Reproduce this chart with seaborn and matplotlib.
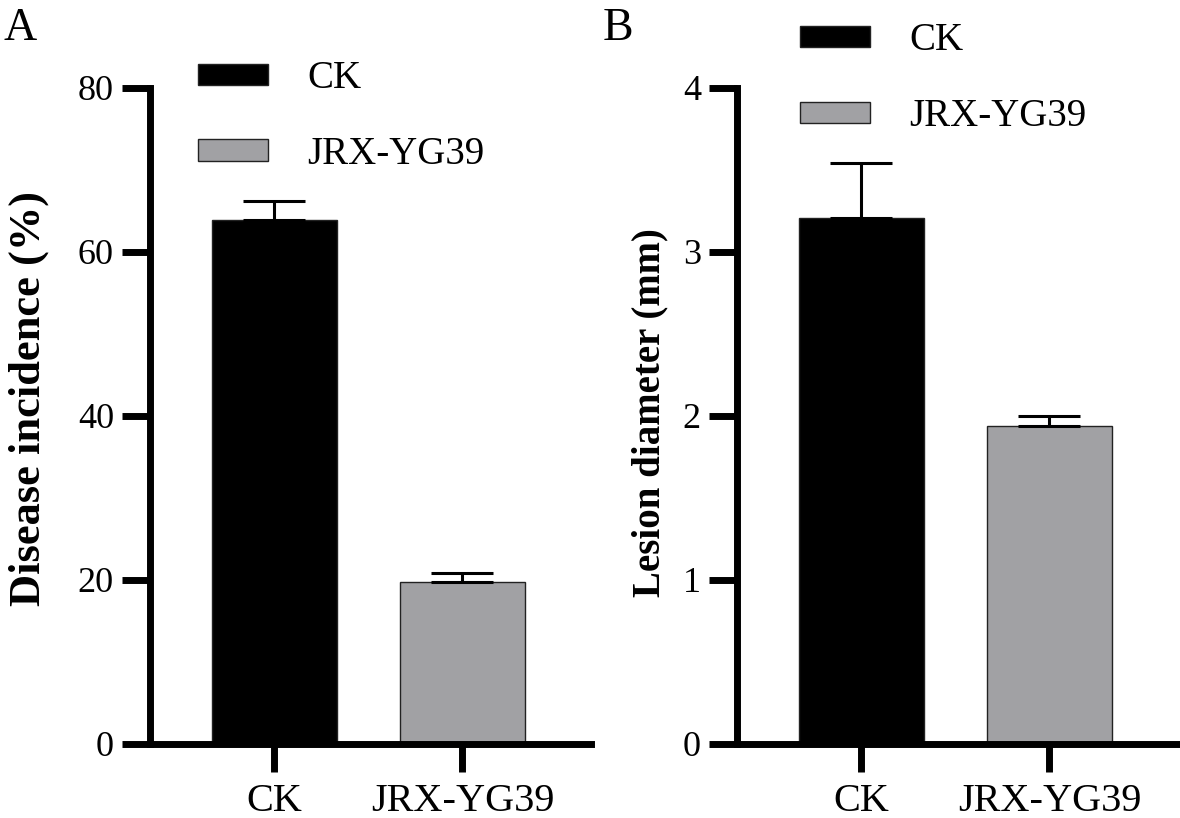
import matplotlib
matplotlib.use("Agg")
import matplotlib.pyplot as plt
import pandas as pd
import seaborn as sns

GROUPS = ["CK", "JRX-YG39"]
COLORS = ["#000000", "#a1a0a5"]

INCIDENCE_MEAN = [63.9, 19.8]
INCIDENCE_ERR = [2.3, 1.0]

DIAMETER_MEAN = [3.21, 1.94]
DIAMETER_ERR = [0.33, 0.06]

# letter, y label, label size, label pad, label centre, means, errors, y ticks, y max
PANELS = [
    ("A", "Disease incidence (%)", 32, 21, 0.527, INCIDENCE_MEAN, INCIDENCE_ERR, [0, 20, 40, 60, 80], 80),
    ("B", "Lesion diameter (mm)", 28, 10, 0.505, DIAMETER_MEAN, DIAMETER_ERR, [0, 1, 2, 3, 4], 4),
]

sns.set_theme(style="ticks")
plt.rcParams["font.family"] = ["Liberation Serif", "DejaVu Serif"]
plt.rcParams.update({"axes.linewidth": 5, "axes.edgecolor": "black", "xtick.color": "black",
                     "ytick.color": "black", "text.color": "black", "axes.labelcolor": "black"})

fig = plt.figure(figsize=(11.8, 8.18), dpi=100)
ax_lefts = [150 / 1180, 737 / 1180]
letter_x = [4 / 1180, 603 / 1180]
legend_anchor = [(0.109, 0.9566), (0.143, 1.0145)]

for (letter, ylabel, lsize, lpad, ly, means, errs, yticks, ymax), left, lx, anchor in zip(
        PANELS, ax_lefts, letter_x, legend_anchor):
    ax = fig.add_axes([left, 1 - 744 / 818, 441 / 1180, 656 / 818])
    df = pd.DataFrame({"group": GROUPS, "value": means})
    sns.barplot(data=df, x="group", y="value", hue="group", palette=COLORS,
                width=0.665, edgecolor="#222222", linewidth=1.0, errorbar=None,
                legend=True, ax=ax)
    # upper-only SEM bars, GraphPad style
    ax.errorbar(x=[0, 1], y=means, yerr=[[0, 0], errs], fmt="none", ecolor="black",
                elinewidth=2.2, capsize=22.5, capthick=2.2, zorder=1)
    ax.set_xlim(-0.662, 1.684)
    ax.set_ylim(0, ymax)
    ax.set_yticks(yticks)
    ax.set_xlabel("")
    ax.set_ylabel(ylabel, fontsize=lsize, fontweight="bold", labelpad=lpad)
    ax.yaxis.label.set_y(ly)
    sns.despine(ax=ax)
    ax.tick_params(axis="both", length=20, width=5)
    ax.tick_params(axis="y", pad=6, labelsize=26)
    ax.tick_params(axis="x", pad=8, labelsize=29)
    sns.move_legend(ax, loc="center left", bbox_to_anchor=anchor,
                    title=None, frameon=False, fontsize=28, handlelength=1.8,
                    handleheight=0.46, labelspacing=1.0, handletextpad=1.0,
                    borderpad=0, borderaxespad=0)
    fig.text(lx, 1 - 8 / 818, letter, fontsize=33, va="top", ha="left")

fig.savefig("out.png", dpi=100)
